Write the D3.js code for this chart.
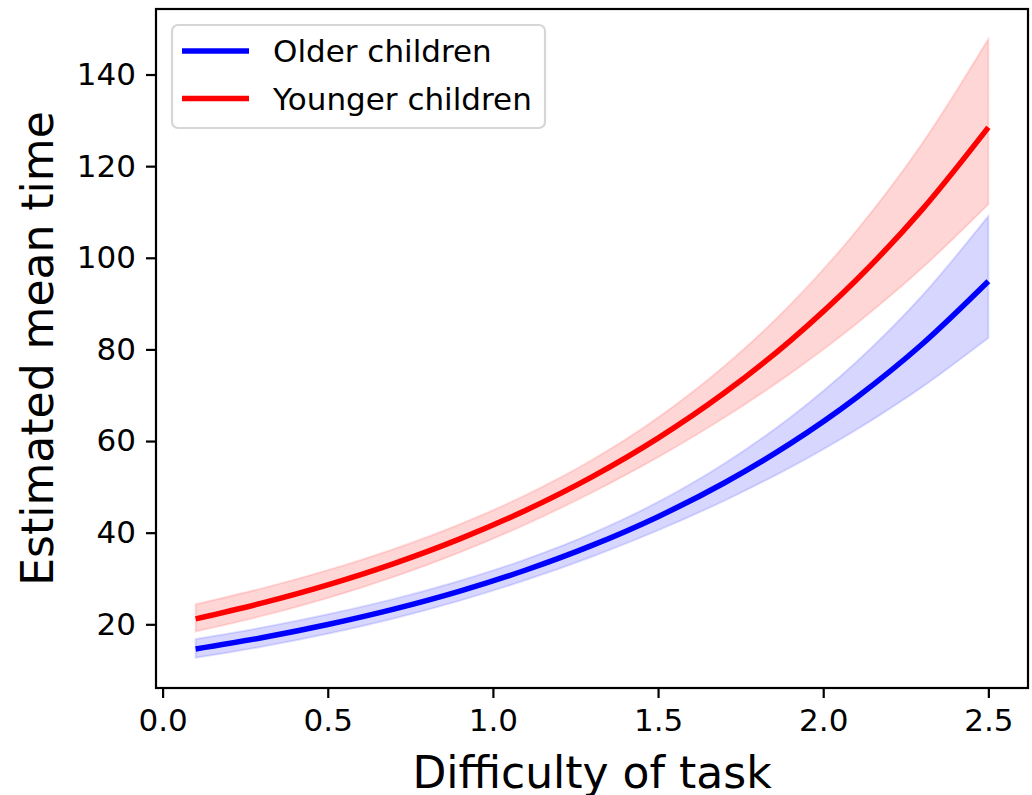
<!DOCTYPE html>
<html>
<head>
<meta charset="utf-8">
<script src="https://cdn.jsdelivr.net/npm/d3@7"></script>
<style>
  body { margin: 0; background: #fff; }
  svg { display: block; font-family: "DejaVu Sans", sans-serif; }
</style>
</head>
<body>
<svg id="chart" width="1032" height="795"></svg>
<script>
// difficulty values at which the model was evaluated
const difficulty = [0.1, 0.3, 0.5, 0.7, 0.9, 1.1, 1.3, 1.5, 1.7, 1.9, 2.1, 2.3, 2.5];

// older children: mean and interval bounds
const olderMean  = [14.6, 17.06, 19.95, 23.31, 27.25, 31.85, 37.22, 43.5, 50.85, 59.43, 69.46, 81.18, 94.88];
const olderUpper = [16.79, 19.28, 22.19, 25.55, 29.51, 34.2, 39.85, 46.71, 55.07, 65.14, 77.25, 91.77, 109.11];
const olderLower = [12.69, 15.09, 17.94, 21.27, 25.17, 29.66, 34.76, 40.51, 46.96, 54.22, 62.46, 71.81, 82.49];

// younger children: mean and interval bounds
const youngerMean  = [21.2, 24.63, 28.62, 33.26, 38.65, 44.91, 52.19, 60.64, 70.47, 81.88, 95.15, 110.56, 128.47];
const youngerUpper = [24.38, 27.84, 31.83, 36.45, 41.85, 48.23, 55.88, 65.12, 76.31, 89.74, 105.83, 124.98, 147.74];
const youngerLower = [18.43, 21.79, 25.74, 30.35, 35.69, 41.82, 48.75, 56.47, 65.08, 74.71, 85.56, 97.8, 111.69];

const xTicks = [0.0, 0.5, 1.0, 1.5, 2.0, 2.5];
const yTicks = [20, 40, 60, 80, 100, 120, 140];

const seriesNames = ['Older children', 'Younger children'];
const seriesColors = ['#0000ff', '#ff0000'];

(function() {
  const svg = d3.select('#chart');
  const plotLeft = 156, plotRight = 1028, plotTop = 9, plotBottom = 688;

  const x = d3.scaleLinear().domain([-0.02, 2.62]).range([plotLeft, plotRight]);
  const y = d3.scaleLinear().domain([6.1, 154.3]).range([plotBottom, plotTop]);

  function rows(mean, lo, hi) {
    return difficulty.map((d, i) => ({x: d, m: mean[i], lo: lo[i], hi: hi[i]}));
  }
  const series = [
    rows(olderMean, olderLower, olderUpper),
    rows(youngerMean, youngerLower, youngerUpper)
  ];

  const curve = d3.curveMonotoneX;
  const area = d3.area().curve(curve).x(d => x(d.x)).y0(d => y(d.lo)).y1(d => y(d.hi));
  const line = d3.line().curve(curve).x(d => x(d.x)).y(d => y(d.m));

  series.forEach((s, i) => {
    svg.append('path')
      .datum(s)
      .attr('d', area)
      .attr('fill', seriesColors[i])
      .attr('fill-opacity', 0.16)
      .attr('stroke', seriesColors[i])
      .attr('stroke-opacity', 0.12)
      .attr('stroke-width', 2);
  });
  series.forEach((s, i) => {
    svg.append('path')
      .datum(s)
      .attr('d', line)
      .attr('fill', 'none')
      .attr('stroke', seriesColors[i])
      .attr('stroke-width', 5.5);
  });

  // axes
  const xAxis = svg.append('g')
    .attr('transform', `translate(0,${plotBottom})`)
    .call(d3.axisBottom(x).tickValues(xTicks).tickFormat(d3.format('.1f')).tickSize(10).tickPadding(11));
  const yAxis = svg.append('g')
    .attr('transform', `translate(${plotLeft},0)`)
    .call(d3.axisLeft(y).tickValues(yTicks).tickSize(10).tickPadding(10));

  [xAxis, yAxis].forEach(g => {
    g.select('.domain').remove();
    g.selectAll('.tick line').attr('stroke', '#000').attr('stroke-width', 2.2);
    g.selectAll('.tick text').attr('font-size', 31).attr('fill', '#000')
      .attr('font-family', '"DejaVu Sans", sans-serif');
  });

  // frame
  svg.append('rect')
    .attr('x', plotLeft).attr('y', plotTop)
    .attr('width', plotRight - plotLeft).attr('height', plotBottom - plotTop)
    .attr('fill', 'none').attr('stroke', '#000').attr('stroke-width', 2.2);

  // axis titles
  svg.append('text')
    .attr('x', (plotLeft + plotRight) / 2).attr('y', 788)
    .attr('text-anchor', 'middle').attr('font-size', 44)
    .text('Difficulty of task');
  svg.append('text')
    .attr('transform', `translate(53,${(plotTop + plotBottom) / 2}) rotate(-90)`)
    .attr('text-anchor', 'middle').attr('font-size', 44)
    .text('Estimated mean time');

  // legend
  const legend = svg.append('g');
  legend.append('rect')
    .attr('x', 172).attr('y', 25).attr('width', 373).attr('height', 103)
    .attr('rx', 6)
    .attr('fill', '#fff').attr('fill-opacity', 0.8)
    .attr('stroke', '#d6d6d6').attr('stroke-width', 2.2);
  seriesNames.forEach((name, i) => {
    const ly = 51 + i * 47.5;
    legend.append('line')
      .attr('x1', 182).attr('x2', 249).attr('y1', ly).attr('y2', ly)
      .attr('stroke', seriesColors[i]).attr('stroke-width', 5.5);
    legend.append('text')
      .attr('x', 273).attr('y', ly + 11)
      .attr('font-size', 31)
      .text(name);
  });
})();
</script>
</body>
</html>
